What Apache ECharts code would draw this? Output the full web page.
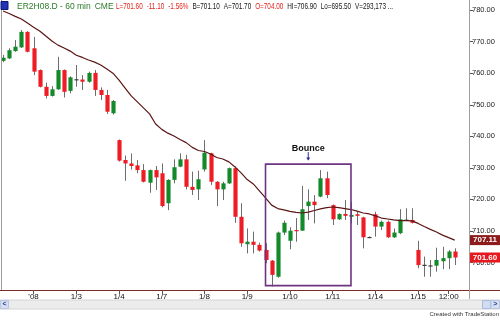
<!DOCTYPE html>
<html><head><meta charset="utf-8">
<script src="https://cdn.jsdelivr.net/npm/echarts@6/dist/echarts.min.js"></script>
<style>html,body{margin:0;padding:0;background:#fff}#c{width:500px;height:330px}</style>
</head><body><div id="c"></div>
<script>
// ---- data ----
const open = [763.9,764.7,767.0,768.2,773.1,767.9,761.0,755.7,752.8,754.9,
761.0,754.4,758.0,758.0,757.3,760.1,754.7,753.1,747.3,738.8,
732.5,731.4,730.8,729.3,725.3,729.3,728.3,718.8,726.2,730.4,
732.7,724.0,723.2,729.5,734.6,725.6,723.2,725.1,729.9,714.5,
705.8,706.6,705.6,704.0,700.6,695.5,709.5,706.9,710.3,710.1,
717.9,719.3,720.9,726.7,718.2,713.7,715.4,714.5,715.3,714.3,
708.0,715.3,711.4,712.9,708.0,709.3,713.5,713.5,704.0,699.2,
699.0,699.0,700.4,701.4,703.5];
const close = [764.9,767.3,768.4,773.1,766.8,760.5,755.7,752.8,754.9,761.0,
754.1,758.7,758.1,757.3,760.1,754.7,753.1,747.8,751.2,732.3,
731.4,730.6,729.3,725.6,729.3,727.0,717.9,726.2,730.2,732.7,
724.0,723.0,726.4,734.8,725.6,723.2,725.1,729.9,714.5,706.1,
706.6,705.6,703.8,700.8,696.1,709.5,712.6,710.1,710.0,716.9,
719.3,718.2,726.7,721.4,713.7,715.4,714.8,715.1,714.8,708.0,
708.1,711.4,712.9,708.0,709.5,713.7,713.6,712.6,699.2,699.3,
699.1,700.8,701.4,703.5,701.6];
const low = [763.5,764.5,766.8,768.0,766.6,759.4,755.5,752.0,752.6,754.7,
752.3,753.6,755.7,754.7,757.0,752.8,751.5,747.1,746.9,732.0,
725.9,729.5,728.3,725.4,722.1,723.0,717.5,716.6,725.1,730.2,
723.2,721.4,719.8,728.8,724.6,717.9,719.8,724.9,712.6,705.0,
702.9,702.9,703.5,699.8,692.4,695.2,708.7,704.2,706.6,710.0,
713.5,712.4,720.7,720.4,711.9,713.5,713.5,712.4,711.9,704.5,
707.9,708.2,710.3,707.8,707.8,709.0,713.3,712.4,698.2,695.5,
695.5,697.1,697.9,697.9,699.2];
const high = [765.8,767.9,770.5,773.7,773.3,771.5,761.2,757.0,755.9,765.2,
761.2,759.0,762.6,759.4,760.5,761.0,755.5,754.7,751.5,739.0,
733.9,734.6,732.5,731.2,729.5,730.6,731.4,726.4,732.7,734.6,
734.1,728.8,729.1,738.8,734.8,725.8,725.6,730.1,730.4,718.8,
710.8,709.8,706.3,706.1,700.8,709.8,713.3,711.2,714.1,724.3,
723.2,721.4,729.3,728.8,718.4,715.6,719.8,719.2,716.1,714.5,
708.3,716.1,713.3,713.3,710.8,716.9,717.2,717.2,706.9,701.9,
700.8,704.7,705.0,704.0,704.5];
const movingAvg = [779.7,778.9,778.0,777.2,775.9,774.6,773.4,771.8,770.2,768.9,
768.0,767.0,765.7,765.0,764.2,763.5,762.6,761.3,760.0,757.8,
755.3,752.8,750.9,749.0,747.1,743.9,742.2,741.0,740.1,739.0,
738.0,736.5,735.5,735.2,734.4,733.3,732.8,731.9,730.3,728.4,
726.3,724.9,722.7,720.5,718.2,717.1,716.7,716.2,715.9,715.7,
716.0,716.5,717.0,717.4,717.6,717.4,717.1,716.8,716.3,715.7,
715.4,714.8,714.1,713.8,713.5,713.3,713.3,713.2,712.4,711.4,
710.5,709.7,708.7,707.9,707.11];
const categories = open.map((_, i) => 'bar' + i).concat(['bar75', 'bar76']);
const tickLabels = ["'08", "1/3", "1/4", "1/7", "1/8", "1/9", "1/10", "1/11", "1/14", "1/15", "12:00"];
const tickIndex = [5, 12, 19, 26, 33, 40, 47, 54, 61, 68, 73];
const yTicks = [700, 710, 720, 730, 740, 750, 760, 770, 780];
const bounceBox = {from: 43, to: 57, top: 731.2, bottom: 692.7};
const headerGreen = ["ER2H08.D - 60 min", "CME"];
const headerQuote = [
  {t: "L=701.60", c: '#e2231a'}, {t: "-11.10", c: '#e2231a'}, {t: "-1.56%", c: '#e2231a'},
  {t: "B=701.10", c: '#151515'}, {t: "A=701.70", c: '#151515'}, {t: "O=704.00", c: '#e2231a'},
  {t: "HI=706.90", c: '#151515'}, {t: "Lo=695.50", c: '#151515'}, {t: "V=293,173 ...", c: '#151515'}
];

const FONT = '"Liberation Sans", Arial, sans-serif';
const labelMap = {};
tickIndex.forEach((k, j) => labelMap[k] = tickLabels[j]);
const candleData = open.map((o, i) => [i, o, close[i], low[i], high[i]]);

const chart = echarts.init(document.getElementById('c'));
chart.setOption({
  animation: false,
  backgroundColor: '#ffffff',
  grid: {left: 0, right: 30, top: 0, bottom: 40, containLabel: false},
  xAxis: {
    type: 'category', data: categories, boundaryGap: true,
    axisLine: {show: true, lineStyle: {color: '#7d2a26', width: 1}},
    axisTick: {show: true, interval: (i) => labelMap[i] !== undefined, alignWithLabel: true, length: 4, lineStyle: {color: '#555'}},
    axisLabel: {interval: (i) => labelMap[i] !== undefined, formatter: (v, i) => labelMap[i] || '', fontSize: 8, color: '#111', margin: 3, fontFamily: FONT},
    splitLine: {show: false}
  },
  yAxis: {
    type: 'value', position: 'right', min: 691.3, max: 783.2, scale: true,
    axisLine: {show: false},
    axisTick: {show: true, customValues: yTicks, length: 3, lineStyle: {color: '#555'}},
    axisLabel: {customValues: yTicks, formatter: (v) => v.toFixed(2), fontSize: 7.5, color: '#222', margin: 2, fontFamily: FONT},
    splitLine: {show: false}
  },
  series: [
    {
      type: 'custom', data: candleData, encode: {x: 0, y: [1, 2, 3, 4]}, z: 2,
      renderItem: function (params, api) {
        const i = api.value(0), o = api.value(1), c = api.value(2), l = api.value(3), h = api.value(4);
        const pH = api.coord([i, h]), pL = api.coord([i, l]), pO = api.coord([i, o]), pC = api.coord([i, c]);
        const w = api.size([1, 0])[0] * 0.68;
        const x = Math.round(pH[0]) + 0.5;
        const doji = Math.abs(c - o) < 0.2;
        const col = doji ? '#3a3a3a' : (c > o ? '#138a2a' : '#ee1c24');
        const yTop = Math.min(pO[1], pC[1]);
        const hgt = Math.max(1.2, Math.abs(pO[1] - pC[1]));
        return {type: 'group', children: [
          {type: 'line', shape: {x1: x, y1: pH[1], x2: x, y2: pL[1]}, style: {stroke: '#6e6e6e', lineWidth: 1}},
          {type: 'rect', shape: {x: x - w / 2, y: yTop, width: w, height: hgt}, style: {fill: col}}
        ]};
      }
    },
    {
      type: 'line', data: movingAvg, symbol: 'none', smooth: false, z: 3,
      lineStyle: {color: '#5c1616', width: 1.2}
    }
  ]
});

// annotations positioned from the chart's own scales
const px = (i, v) => chart.convertToPixel({xAxisIndex: 0, yAxisIndex: 0}, [i, v]);
const b1 = px(bounceBox.from, bounceBox.top), b2 = px(bounceBox.to, bounceBox.bottom);
const boxCx = (b1[0] + b2[0]) / 2;
const yMA = px(0, movingAvg[movingAvg.length - 1])[1];
const yLast = px(0, close[close.length - 1])[1];
const axisY = px(0, 691.3)[1];

// header: green symbol part at natural width, quote part flowed to fit 116..393
const hdrFont = 8.5;
const ctx = document.createElement('canvas').getContext('2d');
ctx.font = hdrFont + 'px "Liberation Sans"';
const headerEls = [];
let hx = 17;
headerGreen.forEach(t => {
  headerEls.push({type: 'text', x: hx, y: 6.5, z: 10, style: {text: t, fill: '#2b7a2b', font: hdrFont + 'px ' + FONT, textVerticalAlign: 'middle'}});
  hx += ctx.measureText(t).width + 4;
});
const qStart = 116, qEnd = 393, gap = 4;
const natW = headerQuote.map(s => ctx.measureText(s.t).width);
const sc = (qEnd - qStart - gap * (headerQuote.length - 1)) / natW.reduce((a, b) => a + b, 0);
hx = qStart;
headerQuote.forEach((s, k) => {
  headerEls.push({type: 'text', x: hx, y: 6.5, scaleX: sc, z: 10, style: {text: s.t, fill: s.c, font: hdrFont + 'px ' + FONT, textVerticalAlign: 'middle'}});
  hx += natW[k] * sc + gap;
});

chart.setOption({graphic: [
  {type: 'line', shape: {x1: 1.5, y1: 0, x2: 1.5, y2: axisY}, style: {stroke: '#9a9a9a', lineWidth: 1}, z: 5},
  {type: 'line', shape: {x1: 469.5, y1: 0, x2: 469.5, y2: 299}, style: {stroke: '#a0a0a0', lineWidth: 1}, z: 5},
  {type: 'line', shape: {x1: 470, y1: axisY + 0.5, x2: 500, y2: axisY + 0.5}, style: {stroke: '#7d2a26', lineWidth: 1}, z: 5},
  {type: 'rect', shape: {x: 1, y: 1.5, width: 7, height: 8}, style: {fill: '#1f33b5', stroke: '#0d1a70', lineWidth: 1}, z: 10},
  ...headerEls,
  {type: 'rect', shape: {x: b1[0], y: b1[1], width: b2[0] - b1[0], height: b2[1] - b1[1]}, style: {fill: 'none', stroke: '#6e3480', lineWidth: 1.6}, z: 6},
  {type: 'text', x: boxCx, y: b1[1] - 15.5, z: 6, style: {text: 'Bounce', fill: '#111', font: 'bold 9px ' + FONT, textAlign: 'center', textVerticalAlign: 'middle'}},
  {type: 'line', shape: {x1: boxCx, y1: b1[1] - 12, x2: boxCx, y2: b1[1] - 4}, style: {stroke: '#2c2ca0', lineWidth: 1}, z: 6},
  {type: 'polygon', shape: {points: [[boxCx - 2, b1[1] - 6.5], [boxCx + 2, b1[1] - 6.5], [boxCx, b1[1] - 3.5]]}, style: {fill: '#2c2ca0'}, z: 6},
  {type: 'rect', shape: {x: 470, y: yMA - 5, width: 30, height: 10}, style: {fill: '#8c1b1b'}, z: 8},
  {type: 'text', x: 485, y: yMA, z: 9, style: {text: movingAvg[movingAvg.length - 1].toFixed(2), fill: '#fff', font: 'bold 8px ' + FONT, textAlign: 'center', textVerticalAlign: 'middle'}},
  {type: 'rect', shape: {x: 470, y: yLast - 5, width: 30, height: 10}, style: {fill: '#e8191e'}, z: 8},
  {type: 'text', x: 485, y: yLast, z: 9, style: {text: close[close.length - 1].toFixed(2), fill: '#fff', font: 'bold 8px ' + FONT, textAlign: 'center', textVerticalAlign: 'middle'}},
  {type: 'rect', shape: {x: 0, y: 300, width: 500, height: 9}, style: {fill: '#ececec', stroke: '#d4d4d4', lineWidth: 1}, z: 5},
  {type: 'rect', shape: {x: 0.5, y: 300.5, width: 8, height: 8}, style: {fill: '#d6e0f2', stroke: '#b8c6e0', lineWidth: 1}, z: 6},
  {type: 'text', x: 4.5, y: 304.5, z: 7, style: {text: '<', fill: '#2a3f9a', font: 'bold 7px ' + FONT, textAlign: 'center', textVerticalAlign: 'middle'}},
  {type: 'rect', shape: {x: 482.5, y: 300.5, width: 8, height: 8}, style: {fill: '#cfdcf2', stroke: '#a9bbdc', lineWidth: 1}, z: 6},
  {type: 'rect', shape: {x: 491, y: 300.5, width: 8.5, height: 8}, style: {fill: '#d6e0f2', stroke: '#b8c6e0', lineWidth: 1}, z: 6},
  {type: 'text', x: 495.2, y: 304.5, z: 7, style: {text: '>', fill: '#2a3f9a', font: 'bold 7px ' + FONT, textAlign: 'center', textVerticalAlign: 'middle'}},
  {type: 'text', x: 499, y: 314, z: 7, style: {text: 'Created with TradeStation', fill: '#333', font: '6px ' + FONT, textAlign: 'right', textVerticalAlign: 'middle'}}
]});
</script></body></html>
